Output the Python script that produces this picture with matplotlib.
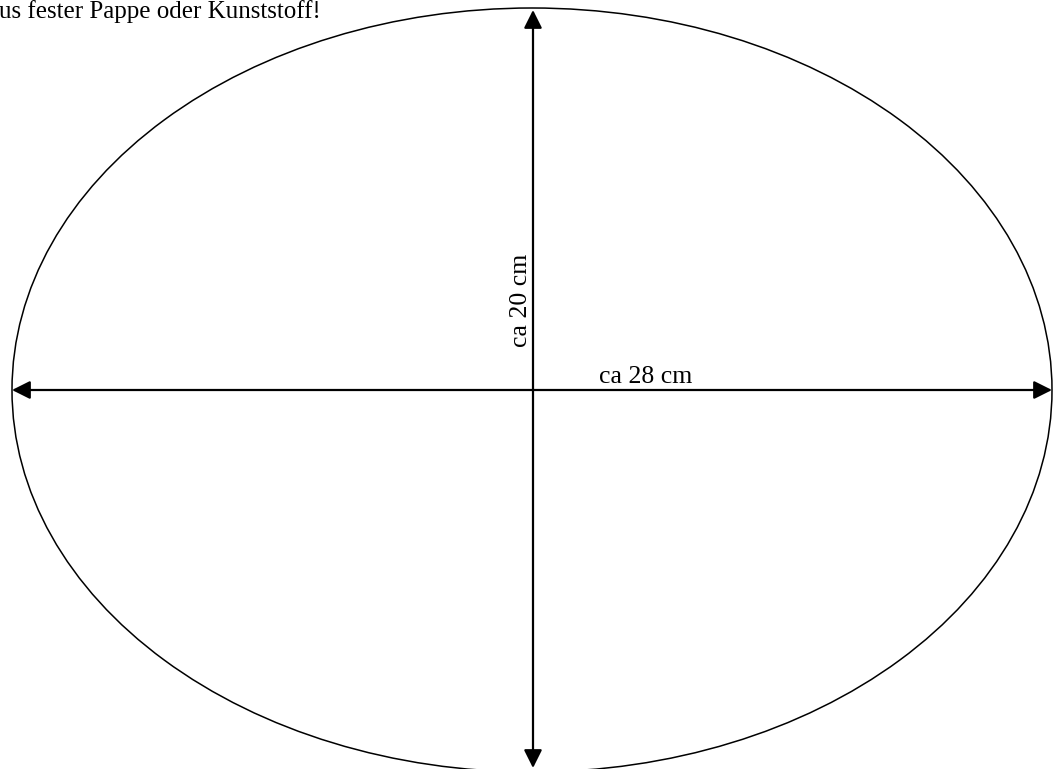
import matplotlib
matplotlib.use("Agg")
import matplotlib.pyplot as plt
from matplotlib.patches import Ellipse

plt.rcParams['font.family'] = ['Liberation Serif', 'DejaVu Serif']

# Schablone (Koordinaten in Bildpunkten)
mitte = (532, 390)
breite = 1040
hoehe = 764
pfeil_h = [(12, 390), (1052, 390)]
pfeil_v = [(533, 10), (533, 768)]
hinweis = "us fester Pappe oder Kunststoff!"
label_breite = "ca 28 cm"
label_hoehe = "ca 20 cm"

fig = plt.figure(figsize=(10.54, 7.69), dpi=100)
ax = fig.add_axes([0, 0, 1, 1])
ax.set_xlim(0, 1054)
ax.set_ylim(769, 0)
ax.axis('off')

ax.add_patch(Ellipse(mitte, breite, hoehe, fill=False, ec='black', lw=1.1))

stil = dict(arrowstyle='<|-|>,head_length=1.1,head_width=0.55', lw=1.6,
            color='black', shrinkA=0, shrinkB=0)
ax.annotate('', xy=pfeil_h[0], xytext=pfeil_h[1], arrowprops=stil)
ax.annotate('', xy=pfeil_v[0], xytext=pfeil_v[1], arrowprops=stil)

ax.text(646, 383, label_breite, fontsize=18.5, ha='center', va='baseline')
ax.text(527, 300, label_hoehe, fontsize=18.5, ha='center', va='baseline',
        rotation=90, rotation_mode='anchor')
ax.text(-1, 18, hinweis, fontsize=18, ha='left', va='baseline')

fig.savefig('out.png', dpi=100)
